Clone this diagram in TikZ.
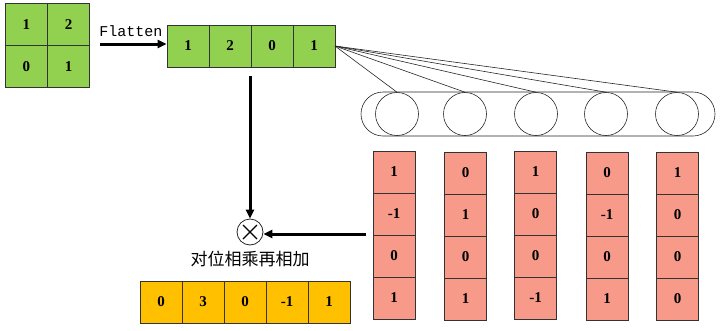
\documentclass[tikz,border=0pt]{standalone}
\usepackage{fontspec}
\setmainfont{Liberation Serif}
\newfontfamily\monof{Liberation Mono}
\newfontfamily\cjk{Noto Sans CJK SC}
\usetikzlibrary{arrows.meta,calc}
\definecolor{gr}{HTML}{92D050}
\definecolor{pk}{HTML}{F79A8A}
\definecolor{og}{HTML}{FFC000}
\tikzset{
  cell/.style={draw=black!80, line width=0.9pt, minimum width=42pt, minimum height=42pt, inner sep=0pt, font=\fontsize{15}{15}\selectfont\bfseries},
  gcell/.style={cell, fill=gr},
  pcell/.style={cell, fill=pk},
  ocell/.style={cell, fill=og},
  thin/.style={line width=0.6pt, black!85},
  bigarrow/.style={line width=3pt, -{Triangle[length=9pt,width=8pt]}},
}
\begin{document}
\begin{tikzpicture}[x=1pt,y=-1pt]
\useasboundingbox (0,0) rectangle (720,330);
% 2x2 grid
\node[gcell] (g11) at (26.5,24.5) {1};
\node[gcell] (g12) at (68.5,24.5) {2};
\node[gcell] (g21) at (26.5,66.5) {0};
\node[gcell] (g22) at (68.5,66.5) {1};
% flatten row
\node[gcell] (f1) at (188,46) {1};
\node[gcell] (f2) at (230,46) {2};
\node[gcell] (f3) at (272,46) {0};
\node[gcell] (f4) at (314,46) {1};
\coordinate (fa) at (100,44);
\draw[bigarrow] (fa) -- (f1.west|-fa) coordinate (fb);
\node[font=\monof\fontsize{15}{15}\selectfont] (flt) at (131,31) {Flatten};
% stadium + circles
\draw[thin, rounded corners=22pt] (361,92) rectangle (715,136);
\foreach \i/\x in {1/397,2/465,3/536,4/606,5/677}{
  \node[draw=black!85, line width=0.6pt, circle, minimum size=43pt, inner sep=0pt] (c\i) at (\x,114) {};
}
\coordinate (fr) at (335,46);
\foreach \i in {1,...,5}{ \draw[thin] (fr) -- (c\i.north); }
% pink columns
\foreach \c/\x/\y/\a/\b/\cc/\d in {1/394/151/1/-1/0/1, 2/465.5/152/0/1/0/1, 3/535.5/151/1/0/0/-1, 4/607/152/0/-1/0/1, 5/677.5/152/1/0/0/0}{
  \node[pcell] (p\c a) at (\x,\y+21) {\a};
  \node[pcell] (p\c b) at (\x,\y+63) {\b};
  \node[pcell] (p\c c) at (\x,\y+105) {\cc};
  \node[pcell] (p\c d) at (\x,\y+147) {\d};
}
% otimes
\node[draw=black!85, line width=0.8pt, circle, minimum size=26pt, inner sep=0pt, fill=white] (ot) at (250,232) {};
\draw[line width=1.3pt] ($(ot.center)+(-7,-7)$) -- ($(ot.center)+(7,7)$);
\draw[line width=1.3pt] ($(ot.center)+(-7,7)$) -- ($(ot.center)+(7,-7)$);
\coordinate (vs) at (250,76);
\draw[bigarrow] (vs) -- (ot.north);
\coordinate (hs) at (366,234);
\draw[bigarrow] (hs) -- (ot.east|-hs);
\node[font=\cjk\fontsize{17}{17}\selectfont] (txt) at (250,259) {对位相乘再相加};
% orange row
\foreach \i/\v in {1/0,2/3,3/0,4/-1,5/1}{
  \node[ocell] (o\i) at ({140+21+42*(\i-1)},302) {\v};
}
\end{tikzpicture}
\end{document}
